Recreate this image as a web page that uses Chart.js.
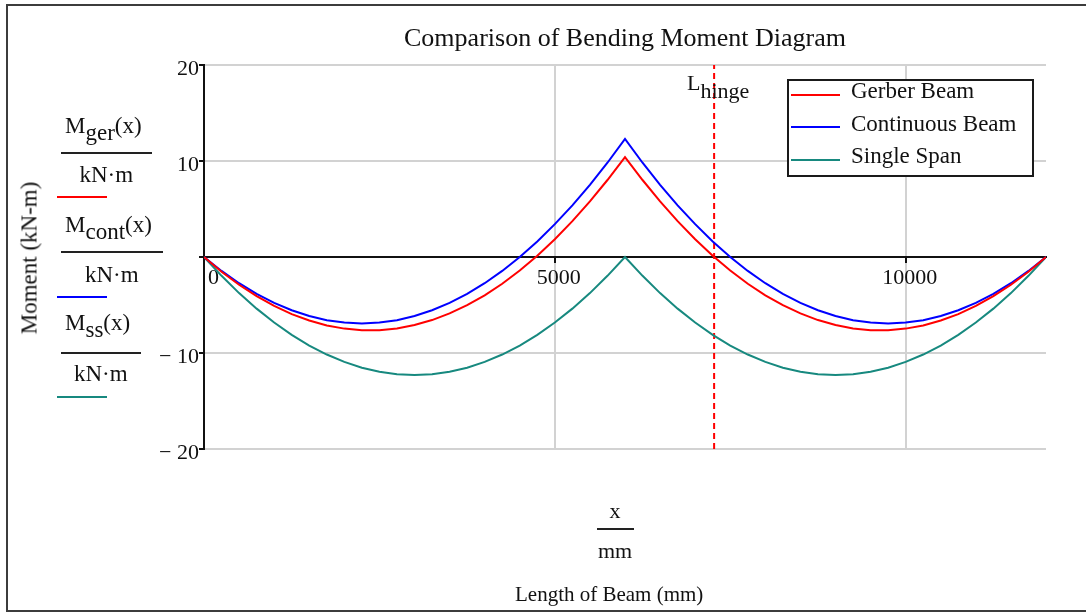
<!DOCTYPE html>
<html>
<head>
<meta charset="utf-8">
<script src="https://cdn.jsdelivr.net/npm/chart.js@4.4.1/dist/chart.umd.min.js"></script>
<style>
  html, body { margin: 0; padding: 0; background: #fff; overflow: hidden; }
  #wrap { position: relative; width: 1086px; height: 613px; overflow: hidden;
          font-family: "Liberation Serif", "Times New Roman", serif; color: #111; }
  #chart { position: absolute; left: 0; top: 0; }
  .t { position: absolute; line-height: 1; white-space: nowrap; }
  .bar { position: absolute; height: 2px; background: #222; }
  .sub { position: relative; top: 7px; }
  #frameL { position: absolute; left: 6px; top: 4px; width: 2px; height: 608px; background: #3c3c3c; }
  #frameT { position: absolute; left: 6px; top: 4px; width: 1080px; height: 2px; background: #3c3c3c; }
  #frameB { position: absolute; left: 6px; top: 610px; width: 1080px; height: 2px; background: #3c3c3c; }
  #legend { position: absolute; left: 787px; top: 79px; width: 247px; height: 98px;
            box-sizing: border-box; border: 2px solid #1a1a1a; background: #fff; }
</style>
</head>
<body>
<div id="wrap">
  <div id="frameL"></div><div id="frameT"></div><div id="frameB"></div>
  <canvas id="chart" width="1086" height="613"></canvas>
  <div id="legend"></div>
</div>
<script>
// beam position along the length, mm
const xMm = [0, 250, 500, 750, 1000, 1250, 1500, 1750, 2000, 2250, 2500, 2750, 3000,
  3250, 3500, 3750, 4000, 4250, 4500, 4750, 5000, 5250, 5500, 5750, 6000,
  6250, 6500, 6750, 7000, 7250, 7500, 7750, 8000, 8250, 8500, 8750, 9000,
  9250, 9500, 9750, 10000, 10250, 10500, 10750, 11000, 11250, 11500, 11750, 12000];

// bending moments, kN·m
const mGer = [0, -1.53, -2.89, -4.08, -5.10, -5.95, -6.62, -7.13, -7.46, -7.63, -7.62, -7.44, -7.09,
  -6.57, -5.88, -5.02, -3.99, -2.79, -1.41, 0.13, 1.85, 3.73, 5.79, 8.02, 10.41,
  8.02, 5.79, 3.73, 1.85, 0.13, -1.41, -2.79, -3.99, -5.02, -5.88, -6.57, -7.09,
  -7.44, -7.62, -7.63, -7.46, -7.13, -6.62, -5.95, -5.10, -4.08, -2.89, -1.53, 0];
const mCont = [0, -1.45, -2.73, -3.84, -4.78, -5.55, -6.15, -6.58, -6.83, -6.92, -6.83, -6.58, -6.15,
  -5.55, -4.78, -3.84, -2.73, -1.45, 0, 1.62, 3.42, 5.38, 7.52, 9.82, 12.30,
  9.82, 7.52, 5.38, 3.42, 1.62, 0, -1.45, -2.73, -3.84, -4.78, -5.55, -6.15,
  -6.58, -6.83, -6.92, -6.83, -6.58, -6.15, -5.55, -4.78, -3.84, -2.73, -1.45, 0];
const mSs = [0, -1.96, -3.76, -5.38, -6.83, -8.11, -9.23, -10.16, -10.93, -11.53, -11.96, -12.21, -12.30,
  -12.21, -11.96, -11.53, -10.93, -10.16, -9.23, -8.11, -6.83, -5.38, -3.76, -1.96, 0,
  -1.96, -3.76, -5.38, -6.83, -8.11, -9.23, -10.16, -10.93, -11.53, -11.96, -12.21, -12.30,
  -12.21, -11.96, -11.53, -10.93, -10.16, -9.23, -8.11, -6.83, -5.38, -3.76, -1.96, 0];

const seriesNames = ["Gerber Beam", "Continuous Beam", "Single Span"];
const hingeX = 7270;          // L_hinge, mm
const xTicks = [0, 5000, 10000];
const yTicks = [-20, -10, 0, 10, 20];

const RED = "#ff0000", BLUE = "#0000ff", TEAL = "#17897f";
const SERIF = '"Liberation Serif", "Times New Roman", serif';
const GRID = "#d2d2d2";

const pts = ys => xMm.map((x, i) => ({ x: x, y: ys[i] }));
const line = (label, data, color) => ({
  label, data, borderColor: color, backgroundColor: color,
  borderWidth: 2, pointRadius: 0, tension: 0, fill: false
});

const chart = new Chart(document.getElementById("chart"), {
  type: "line",
  data: {
    datasets: [
      line(seriesNames[0], pts(mGer), RED),
      line(seriesNames[1], pts(mCont), BLUE),
      line(seriesNames[2], pts(mSs), TEAL),
      Object.assign(line("hinge", [{ x: hingeX, y: yTicks[0] }, { x: hingeX, y: yTicks[yTicks.length - 1] }], RED),
        { borderDash: [6, 4], isHinge: true })
    ]
  },
  options: {
    responsive: false,
    animation: false,
    events: [],
    layout: { padding: { left: 0, right: 40, top: 0, bottom: 164 } },
    plugins: {
      legend: { display: false },
      tooltip: { enabled: false },
      title: {
        display: true, fullSize: false,
        text: "Comparison of Bending Moment Diagram",
        color: "#111",
        font: { family: SERIF, size: 26, weight: "normal" },
        padding: { top: 24, bottom: 9.8 }
      }
    },
    scales: {
      x: {
        type: "linear", min: 0, max: 12000,
        position: { y: 0 },
        afterBuildTicks: s => { s.ticks = xTicks.map(v => ({ value: v })); },
        ticks: {
          autoSkip: false, maxRotation: 0, padding: 3, labelOffset: 4,
          color: "#111", font: { family: SERIF, size: 22 },
          callback: v => v === 0 ? "  0" : String(v)
        },
        grid: {
          color: c => (c.tick && c.tick.value === 0) ? "rgba(0,0,0,0)" : GRID,
          lineWidth: 2, tickColor: "#111", tickLength: 5
        },
        border: { display: true, color: "#111", width: 2 }
      },
      y: {
        type: "linear", min: -20, max: 20,
        afterFit: s => { s.width = 204; },
        afterBuildTicks: s => { s.ticks = yTicks.map(v => ({ value: v })); },
        ticks: {
          padding: 0, labelOffset: 4,
          color: "#111", font: { family: SERIF, size: 22 },
          callback: v => v === 0 ? "" : (v < 0 ? "\u2212 " + Math.abs(v) : String(v))
        },
        grid: {
          color: c => (c.tick && c.tick.value === 0) ? "rgba(0,0,0,0)" : GRID,
          lineWidth: 2, tickColor: "#111", tickLength: 5
        },
        border: { display: true, color: "#111", width: 2 }
      }
    }
  }
});

// ---- Mathcad style labels (HTML text) ----
const wrap = document.getElementById("wrap");

function put(html, x, base, size, align) {
  const d = document.createElement("div");
  d.className = "t";
  d.style.fontSize = size + "px";
  d.innerHTML = html;
  d.style.top = (base - 0.8375 * size) + "px";
  wrap.appendChild(d);
  const w = d.offsetWidth;
  d.style.left = (align === "center" ? x - w / 2 : x) + "px";
  return d;
}
function bar(x1, x2, y, color) {
  const b = document.createElement("div");
  b.className = "bar";
  b.style.left = x1 + "px";
  b.style.width = (x2 - x1) + "px";
  b.style.top = (y - 1) + "px";
  if (color) b.style.background = color;
  wrap.appendChild(b);
}

// y axis title
const yt = put("Moment (kN-m)", 0, 0, 23);
yt.style.left = "29px"; yt.style.top = "258px";
yt.style.transform = "translate(-50%, -50%) rotate(-90deg)";

// stacked function labels on the left
const fnLabels = [
  { sub: "ger",  base: 133, barX2: 152, barY: 153, denBase: 182, swatchY: 197, color: RED },
  { sub: "cont", base: 232, barX2: 163, barY: 252, denBase: 282, swatchY: 297, color: BLUE },
  { sub: "ss",   base: 330, barX2: 141, barY: 353, denBase: 381, swatchY: 397, color: TEAL }
];
fnLabels.forEach(f => {
  put('M<span class="sub">' + f.sub + '</span>(x)', 65, f.base, 23);
  bar(61, f.barX2, f.barY);
  put("kN\u00b7m", (61 + f.barX2) / 2, f.denBase, 23, "center");
  bar(57, 107, f.swatchY, f.color);
});

// x axis label
put("x", 615, 518, 22, "center");
bar(597, 634, 529);
put("mm", 615, 558, 22, "center");
put("Length of Beam (mm)", 609, 602, 21, "center");

// hinge label
put('L<span class="sub" style="top:8px">hinge</span>', 687, 90, 22);

// legend built from the chart datasets
const legend = document.getElementById("legend");
chart.data.datasets.filter(ds => !ds.isHinge).forEach((ds, i) => {
  const sw = document.createElement("div");
  sw.style.cssText = "position:absolute;left:2px;width:49px;height:2px;top:" + (12.5 + i * 32.5) + "px;background:" + ds.borderColor;
  legend.appendChild(sw);
  const tx = document.createElement("div");
  tx.className = "t";
  tx.style.fontSize = "23px";
  tx.style.left = "62px";
  tx.style.top = (98.5 + i * 32.5 - 79 - 2 - 0.8375 * 23) + "px";
  tx.textContent = ds.label;
  legend.appendChild(tx);
});
</script>
</body>
</html>
